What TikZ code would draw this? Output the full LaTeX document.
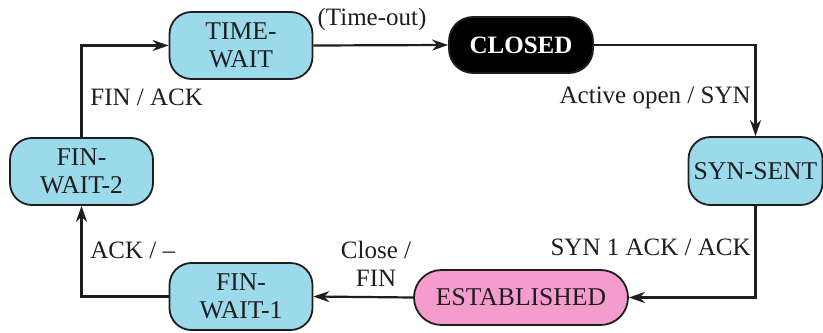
\documentclass[tikz,border=0pt]{standalone}
\usepackage{fontspec}
\setmainfont{Liberation Serif}
\usetikzlibrary{arrows.meta}
\definecolor{stcyan}{RGB}{155,218,235}
\definecolor{stpink}{RGB}{245,155,205}
\definecolor{stink}{RGB}{30,30,30}
\tikzset{
  state/.style={draw=stink, line width=0.9pt, fill=stcyan, rounded corners=11pt,
    minimum width=71.5pt, minimum height=33.5pt, align=center, inner sep=1pt,
    text=stink, font=\fontsize{12.8}{14}\selectfont},
  conn/.style={draw=stink, line width=1.1pt, -{Stealth[length=8pt,width=5.5pt]}},
  lbl/.style={text=stink, font=\fontsize{12.5}{14}\selectfont, inner sep=0pt, align=center}
}
\begin{document}
\begin{tikzpicture}[x=0.5pt,y=-0.5pt]
\useasboundingbox[fill=white] (0,0) rectangle (823,332);
\node[state] (tw) at (241,45.5) {TIME-\\WAIT};
\node[state, fill=black, text=white, font=\bfseries\fontsize{12.5}{14}\selectfont,
  minimum width=72pt, minimum height=28pt, rounded corners=12pt] (cl) at (521,45) {CLOSED};
\node[state, minimum width=67pt, minimum height=34pt] (ss) at (755.5,171) {SYN-SENT};
\node[state, fill=stpink, minimum width=107pt, minimum height=27.5pt, rounded corners=13.7pt] (es) at (521,297.5) {ESTABLISHED};
\node[state] (f1) at (241,296.5) {FIN-\\WAIT-1};
\node[state] (f2) at (81.5,171.5) {FIN-\\WAIT-2};

\draw[conn] (f1.west) -| (f2.south);
\draw[conn] (f2.north) |- (tw.west);
\draw[conn] (tw.east) -- (cl.west);
\draw[conn] (cl.east) -| (ss.north);
\draw[conn] (ss.south) |- (es.east);
\draw[conn] (es.west) -- (f1.east);

\node[lbl, anchor=west] (l1) at (90,250) {ACK / --};
\node[lbl, anchor=west] (l2) at (90,97) {FIN / ACK};
\node[lbl] (l3) at (372,19) {(Time-out)};
\node[lbl, anchor=east] (l4) at (751,98) {Active open / SYN};
\node[lbl, anchor=east] (l5) at (751,247) {SYN 1 ACK / ACK};
\node[lbl] (l6) at (376,264) {Close /\\FIN};
\end{tikzpicture}
\end{document}
